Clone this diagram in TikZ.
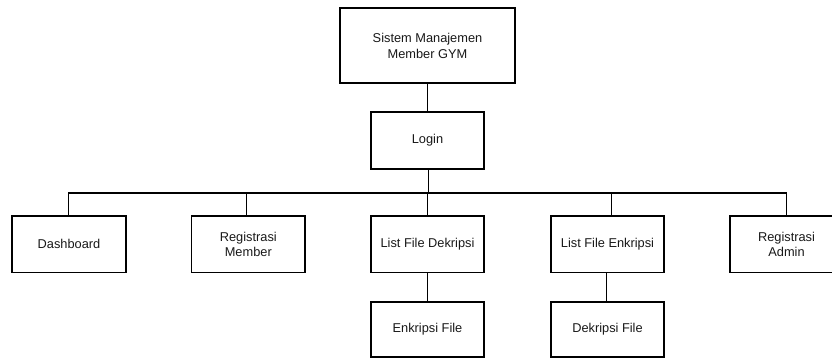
\documentclass[tikz,border=0pt]{standalone}
\usepackage{fontspec}
\setmainfont{Liberation Sans}
\begin{document}
\begin{tikzpicture}[x=1pt,y=-1pt,
  box/.style={draw=black,line width=1.8pt,fill=white,inner sep=0pt,
    align=center,minimum width=113.5pt,minimum height=56.5pt,
    font=\fontsize{12.8}{15.5}\selectfont,text=black!90},
  link/.style={draw=black,line width=1.8pt}]
  \useasboundingbox (0,0) rectangle (832,358);
  % root and login
  \node[box,minimum width=175.5pt,minimum height=75pt] (root) at (427.5,45.7) {Sistem Manajemen\\Member GYM};
  \node[box] (login) at (427.5,140.5) {Login};
  % menu row
  \node[box] (dash)  at (69,244.3)    {Dashboard};
  \node[box] (regm)  at (248.3,244.3) {Registrasi\\Member};
  \node[box] (lfd)   at (427.5,244.3) {List File Dekripsi};
  \node[box] (lfe)   at (607.5,244.3) {List File Enkripsi};
  \node[box] (rega)  at (786.5,244.3) {Registrasi\\Admin};
  % sub menus
  \node[box,minimum height=55pt] (enk) at (427.5,329.5) {Enkripsi File};
  \node[box,minimum height=55pt] (dek) at (607.5,329.5) {Dekripsi File};
  % connectors
  \coordinate (bus) at (428.5,193);
  \draw[link] (root.south) -- (login.north);
  \draw[link] ([xshift=1pt]login.south) -- (bus);
  \draw[link] (bus) -| ([xshift=-0.5pt]dash.north);
  \draw[link] (bus) -| ([xshift=-1.8pt]regm.north);
  \draw[link] (bus) -| (lfd.north);
  \draw[link] (bus) -| ([xshift=4pt]lfe.north);
  \draw[link] (bus) -| (rega.north);
  \draw[link] (lfd.south) -- (enk.north);
  \draw[link] ([xshift=-1pt]lfe.south) -- ([xshift=-1pt]dek.north);
\end{tikzpicture}
\end{document}
